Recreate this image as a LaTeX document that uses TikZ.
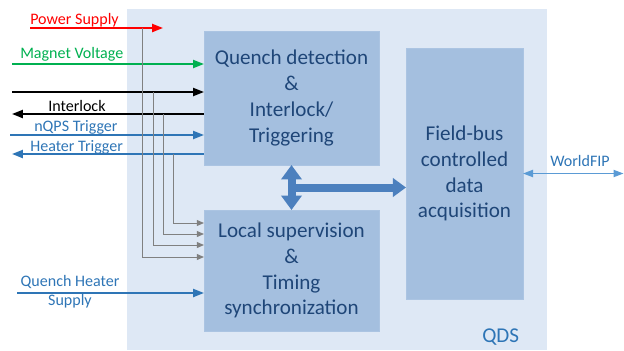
\documentclass[tikz,border=0pt]{standalone}
\usepackage{fontspec}
\setmainfont{Carlito}
\usetikzlibrary{arrows.meta, positioning, calc}
\definecolor{qdsback}{RGB}{222,232,245}
\definecolor{blockfill}{RGB}{164,191,223}
\definecolor{blocktext}{RGB}{31,70,120}
\definecolor{sigblue}{RGB}{46,117,182}
\definecolor{sigred}{RGB}{255,0,0}
\definecolor{siggreen}{RGB}{0,176,80}
\definecolor{taygray}{RGB}{128,128,128}
\definecolor{busblue}{RGB}{76,128,190}
\definecolor{fipblue}{RGB}{91,155,213}
\tikzset{
  qdsframe/.style={fill=qdsback, draw=none, inner sep=0pt, outer sep=0pt},
  blockbox/.style={fill=blockfill, draw=blockfill!92!white, line width=0.4pt, inner sep=0pt, outer sep=0pt,
      align=center, text=blocktext, font=\fontsize{15}{18.4}\selectfont},
  siglbl/.style={font=\fontsize{11.4}{13.5}\selectfont, inner sep=0pt},
  sigarrow/.style={-{Triangle[length=2.7mm, width=2mm]}, line width=1.3pt, #1},
  taparrow/.style={-{Triangle[length=1.8mm, width=1.5mm]}, line width=0.7pt, taygray},
  busarrow/.style={-{Triangle[length=3.3mm, width=4.6mm]}, line width=2mm, busblue},
  busarrow2/.style={{Triangle[length=3.6mm, width=5mm]}-{Triangle[length=3.6mm, width=5mm]}, line width=2mm, busblue},
  fiparrow/.style={{Triangle[length=2.5mm, width=1.8mm]}-{Triangle[length=2.5mm, width=1.8mm]}, line width=1pt, fipblue},
}

\begin{document}
\begin{tikzpicture}[x=0.025cm, y=-0.025cm]
  \useasboundingbox (0,0) rectangle (624,350);

  % === QDS crate and its three blocks ===
  \node[qdsframe, minimum width=10.5cm, minimum height=8.525cm] (qds) at (337,179.5) {};
  \node[siglbl, anchor=base west, text=sigblue, font=\fontsize{15}{18}\selectfont] (qdslbl) at (482,342) {QDS};

  \node[blockbox, minimum width=4.375cm, minimum height=3.35cm] (qd) at (291.5,98)
      {Quench detection\\\&\\Interlock/\\Triggering};
  \node[blockbox, minimum width=4.375cm, minimum height=3.025cm] (ls) at (291.5,270.5)
      {Local supervision\\\&\\Timing\\synchronization};
  \node[blockbox, minimum width=2.925cm, minimum height=6.275cm] (fb) at (464.5,173.5)
      {Field-bus\\controlled\\data\\acquisition};

  % === Signals on the left ===
  \coordinate (psin) at (30,28);
  \coordinate (psend) at (163,28);
  \node[siglbl, anchor=base west, text=sigred] (pslbl) at (30,24.5) {Power Supply};
  \draw[sigarrow=sigred] (psin) -- (psend);

  \coordinate (mvin) at (12,64);
  \node[siglbl, anchor=base west, text=siggreen] (mvlbl) at (20,58) {Magnet Voltage};
  \draw[sigarrow=siggreen] (mvin) -- (mvin -| qd.west);

  \coordinate (ilkin) at (12,92);
  \draw[sigarrow=black] (ilkin) -- (ilkin -| qd.west);

  \coordinate (ilkout) at (12,114);
  \node[siglbl, anchor=base west] (ilklbl) at (48,111) {Interlock};
  \draw[sigarrow=black] (ilkout -| qd.west) -- (ilkout);

  \coordinate (nqps) at (10,135);
  \node[siglbl, anchor=base west, text=sigblue] (nqpslbl) at (34,131.5) {nQPS Trigger};
  \draw[sigarrow=sigblue] (nqps) -- (nqps -| qd.west);

  \coordinate (htr) at (12,154);
  \node[siglbl, anchor=base west, text=sigblue] (htrlbl) at (30,151) {Heater Trigger};
  \draw[sigarrow=sigblue] (htr -| qd.west) -- (htr);

  \coordinate (qhs) at (17,293);
  \node[siglbl, align=center, text=sigblue] (qhslbl) at (70,292) {Quench Heater\\Supply};
  \draw[sigarrow=sigblue] (qhs) -- (qhs -| ls.west);

  % taps down to the local supervision
  \coordinate (tap1) at (142,28);
  \coordinate (tap2) at (153,92);
  \coordinate (tap3) at (163,114);
  \coordinate (tap4) at (173,154);
  \draw[taparrow] (tap1) |- (ls.west |- 0,257);
  \draw[taparrow] (tap2) |- (ls.west |- 0,245);
  \draw[taparrow] (tap3) |- (ls.west |- 0,234);
  \draw[taparrow] (tap4) |- (ls.west |- 0,223);

  % internal bus
  \coordinate (hub) at ($(qd.south)!0.5!(ls.north)$);
  \draw[busarrow2] (qd.south) -- (ls.north);
  \draw[busarrow] (hub) -- (hub -| fb.west);

  % WorldFIP link
  \coordinate (fipend) at (623.5,173.5);
  \node[siglbl, anchor=base west, text=sigblue] (fiplbl) at (550,166) {WorldFIP};
  \draw[fiparrow] (fb.east) -- (fipend);
\end{tikzpicture}
\end{document}
